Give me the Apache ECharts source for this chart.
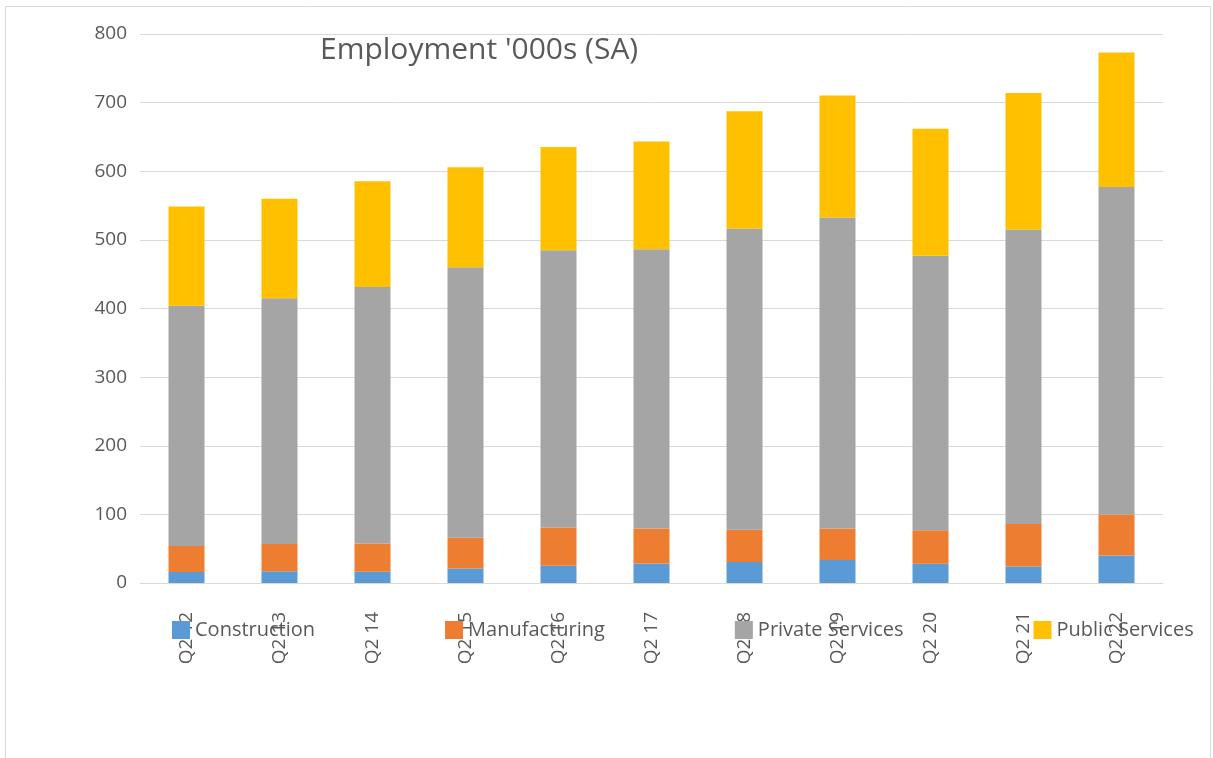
<!DOCTYPE html>
<html>
<head>
<meta charset="utf-8">
<script src="https://cdn.jsdelivr.net/npm/echarts@6/dist/echarts.min.js"></script>
<style>
  html, body { margin: 0; padding: 0; background: #fff; }
  #chart { width: 1213px; height: 758px; }
</style>
</head>
<body>
<div id="chart"></div>
<script>
// data ('000s, seasonally adjusted)
var quarters = ['Q2 12', 'Q2 13', 'Q2 14', 'Q2 15', 'Q2 16', 'Q2 17', 'Q2 18', 'Q2 19', 'Q2 20', 'Q2 21', 'Q2 22'];
var construction = [16, 17, 16.5, 21, 25, 28.5, 30.5, 33.5, 28, 24, 40];
var manufacturing = [38, 40, 41, 45, 56, 51, 47, 46, 49, 62, 60];
var privateServices = [350, 358, 374, 394, 404, 407, 439, 453, 400, 429, 477];
var publicServices = [144.5, 145, 154, 146, 150.5, 157, 171, 178, 185, 199, 196];

var textColor = '#595959';
var font = 'Open Sans';

function bar(name, data) {
    return {
        name: name,
        type: 'bar',
        stack: 'total',
        barWidth: 36,
        data: data
    };
}

var myChart = echarts.init(document.getElementById('chart'));
myChart.setOption({
    animation: false,
    color: ['#5B9BD5', '#ED7D31', '#A5A5A5', '#FFC000'],
    title: {
        text: "Employment '000s (SA)",
        left: 320,
        top: 35,
        padding: 0,
        textStyle: { fontFamily: font, fontSize: 30, fontWeight: 'normal', color: textColor, letterSpacing: 1.5 }
    },
    legend: {
        left: 172,
        top: 620,
        padding: 0,
        itemWidth: 18,
        itemHeight: 18,
        itemGap: 130,
        icon: 'rect',
        textStyle: { fontFamily: font, fontSize: 20, color: textColor },
        data: ['Construction', 'Manufacturing', 'Private Services', 'Public Services']
    },
    // thin frame round the chart area, as in the exported picture
    graphic: [{
        type: 'rect',
        shape: { x: 5.5, y: 6.5, width: 1205, height: 800 },
        style: { fill: 'none', stroke: '#D9D9D9', lineWidth: 1 },
        silent: true
    }],
    grid: { left: 140, right: 50, top: 34, bottom: 175 },
    xAxis: {
        type: 'category',
        data: quarters,
        axisLine: { lineStyle: { color: '#D9D9D9', width: 1 } },
        axisTick: { show: false },
        axisLabel: { rotate: 90, margin: 29, fontFamily: font, fontSize: 19, color: textColor }
    },
    yAxis: {
        type: 'value',
        min: 0,
        max: 800,
        interval: 100,
        axisLine: { show: false },
        axisTick: { show: false },
        splitLine: { lineStyle: { color: '#D9D9D9', width: 1 } },
        axisLabel: { margin: 13, fontFamily: font, fontSize: 19, color: textColor }
    },
    series: [
        bar('Construction', construction),
        bar('Manufacturing', manufacturing),
        bar('Private Services', privateServices),
        bar('Public Services', publicServices)
    ]
});
</script>
</body>
</html>
